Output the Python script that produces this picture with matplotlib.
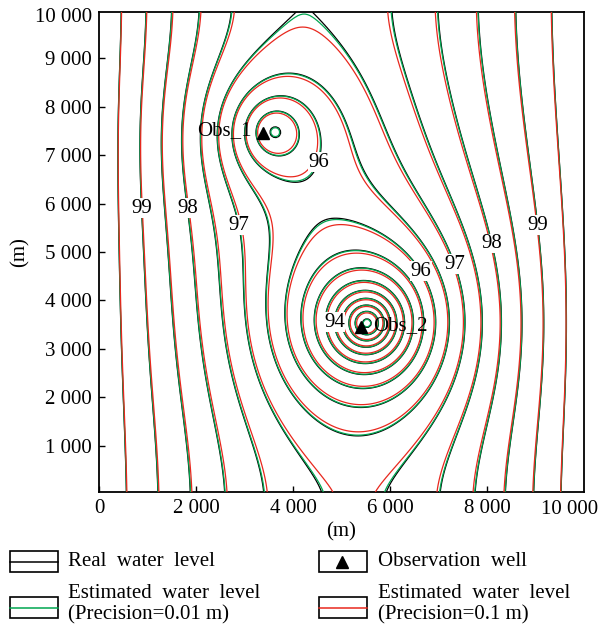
import numpy as np
import matplotlib
matplotlib.use("Agg")
import matplotlib.pyplot as plt
from matplotlib.lines import Line2D
from matplotlib.patches import Rectangle

plt.rcParams['font.family'] = ['Liberation Serif', 'DejaVu Serif']
FS = 15
plt.rcParams['font.size'] = FS

# ---------------- values ----------------
domain_length = 10000.0
boundary_head = 100.0
pump_x = [3590.0, 5530.0]
pump_y = [7490.0, 3530.0]
pump_rw = [400.0, 300.0]
cone_R = [1500.0, 3000.0]
# broad low zone under the lower cone (stretches its rings downward)
low_x = [5550.0]
low_y = [2300.0]
low_r = [1400.0]

obs_x = [3380.0, 5400.0]
obs_y = [7450.0, 3450.0]
obs_names = ["Obs_1", "Obs_2"]

# contour crossings: x (m), y (m), head (m)
edge_x = [536, 1030, 1530, 2080, 2700, 3900, 4450, 5835, 6784, 7608, 8433, 9196,
          660, 1240, 1860, 2430, 3030, 3650, 6760, 7380, 7980, 8510, 8970, 9440,
          680, 1320, 1960, 2660, 3380, 4350, 6100, 7030, 7710, 8330, 8890, 9440,
          495, 1010, 1505, 1950, 2450, 2970, 9031, 8103, 7381, 4175, 4175]
edge_y = [9900] * 12 + [1430] * 12 + [100] * 12 + [5900] * 6 + [5557, 5186, 4794, 9700, 9950]
edge_h = [99.5, 99.0, 98.5, 98.0, 97.5, 97.0, 97.0, 97.5, 98.0, 98.5, 99.0, 99.5,
          99.5, 99.0, 98.5, 98.0, 97.5, 97.0, 97.0, 97.5, 98.0, 98.5, 99.0, 99.5,
          99.5, 99.0, 98.5, 98.0, 97.5, 97.0, 97.0, 97.5, 98.0, 98.5, 99.0, 99.5,
          99.5, 99.0, 98.5, 98.0, 97.5, 97.0, 99.0, 98.0, 97.0, 96.95, 96.96]
edge_w = [2] * 5 + [4, 4] + [2] * 38 + [6, 6]
ring_x = [4480, 2700, 3590, 3590, 4040, 3140, 3590, 3590, 3590,
          3780, 4090, 4360, 4520, 4830, 5140, 5300, 5530, 5530, 6763, 5530, 7340, 5530]
ring_y = [7490, 7490, 8380, 6600, 7490, 7490, 7940, 7040, 7490,
          3530, 3530, 3530, 3530, 3530, 3530, 3530, 5140, 1124, 4670, 5620, 3300, 3530]
ring_h = [96.0, 96.0, 96.0, 96.0, 95.5, 95.5, 95.5, 95.5, 94.95,
          96.0, 95.5, 95.0, 94.5, 94.0, 93.0, 92.5, 96.0, 96.0, 96.0, 96.5, 96.0, 91.8]

contour_levels = [90.0, 90.5, 91.0, 91.5, 92.0, 92.5, 93.0, 93.5, 94.0, 94.5,
                  95.0, 95.5, 96.0, 96.5, 97.0, 97.5, 98.0, 98.5, 99.0, 99.5]
label_level = [99, 98, 97, 96, 96, 97, 98, 99, 94]
label_pos = [(1093, 5907), (2020, 5928), (3010, 5577), (4495, 6835),
             (6763, 4670), (7381, 4794), (8103, 5186), (9031, 5557),
             (4763, 3536)]

scale_green = 0.997   # estimated field, precision 0.01 m
scale_red = 0.984     # estimated field, precision 0.1 m

x_ticks = [0, 2000, 4000, 6000, 8000]
x_tick_labels = ["0", "2 000", "4 000", "6 000", "8 000"]
y_ticks = [1000, 2000, 3000, 4000, 5000, 6000, 7000, 8000, 9000]
y_tick_labels = ["1 000", "2 000", "3 000", "4 000", "5 000",
                 "6 000", "7 000", "8 000", "9 000"]

# ---------------- head model ----------------
def strip_green(X, Y, x0, y0, rw):
    L = domain_length
    k = np.pi / L
    g = np.zeros_like(X, dtype=float)
    for m in range(-2, 3):
        for yy in (y0 + 2 * m * L, -y0 + 2 * m * L):
            c = np.cosh(k * (Y - yy))
            num = c - np.cos(k * (X + x0))
            den = c - np.cos(k * (X - x0)) + 0.5 * (k * rw) ** 2
            g = g + np.log(num / den) / (4 * np.pi)
    return g


def local_cone(X, Y, x0, y0, rw, R):
    r2 = (X - x0) ** 2 + (Y - y0) ** 2
    return 0.5 * np.log((r2 + rw ** 2 + R ** 2) / (r2 + rw ** 2))


def basis(X, Y):
    cols = []
    for i in range(len(pump_x)):
        cols.append(strip_green(X, Y, pump_x[i], pump_y[i], pump_rw[i]))
    for i in range(len(pump_x)):
        cols.append(local_cone(X, Y, pump_x[i], pump_y[i], pump_rw[i], cone_R[i]))
    for i in range(len(low_x)):
        cols.append(strip_green(X, Y, low_x[i], low_y[i], low_r[i]))
    L = domain_length
    cols.append(4.0 * X * (L - X) / L ** 2)
    return cols


def fit_nonneg(A, b):
    n = A.shape[1]
    best = None
    for mask in range(1, 2 ** n):
        idx = [i for i in range(n) if (mask >> i) & 1]
        sol = np.linalg.lstsq(A[:, idx], b, rcond=None)[0]
        if np.all(sol >= 0):
            coef = np.zeros(n)
            coef[idx] = sol
            res = np.sum((A @ coef - b) ** 2)
            if best is None or res < best[0]:
                best = (res, coef)
    return best[1]


cx = np.array(edge_x + ring_x, float)
cy = np.array(edge_y + ring_y, float)
ch = np.array(edge_h + ring_h, float)
cw = np.array([float(w) for w in edge_w] + [1.0] * len(ring_x))
A = np.column_stack(basis(cx, cy)) * cw[:, None]
b = (boundary_head - ch) * cw
coef = fit_nonneg(A, b)

xs = np.linspace(0, domain_length, 201)
ys = np.linspace(50, 9950, 199)
X, Y = np.meshgrid(xs, ys)
S = sum(c * col for c, col in zip(coef, basis(X, Y)))
h_real = boundary_head - S
h_green = boundary_head - scale_green * S
h_red = boundary_head - scale_red * S

# ---------------- figure ----------------
W, H = 603, 628
fig = plt.figure(figsize=(W / 100, H / 100), dpi=100)
ax = fig.add_axes([99 / W, 1 - 492 / H, 485 / W, 480 / H])

green = '#00a650'
red = '#e8281e'
lw = 0.9
cs_b = ax.contour(X, Y, h_real, levels=contour_levels, colors='black', linewidths=lw, zorder=2)
cs_g = ax.contour(X, Y, h_green, levels=contour_levels, colors=green, linewidths=lw, zorder=3)
cs_r = ax.contour(X, Y, h_red, levels=contour_levels, colors=red, linewidths=lw, zorder=4)

for lev, (px, py) in zip(label_level, label_pos):
    segs = cs_b.allsegs[contour_levels.index(float(lev))]
    best = None
    for seg in segs:
        if len(seg) == 0:
            continue
        d = (seg[:, 0] - px) ** 2 + (seg[:, 1] - py) ** 2
        j = int(np.argmin(d))
        if best is None or d[j] < best[0]:
            best = (d[j], seg[j, 0], seg[j, 1])
    tx, ty = (best[1], best[2]) if best is not None else (px, py)
    ax.text(tx, ty, f"{lev}", ha='center', va='center', zorder=10,
            bbox=dict(boxstyle='square,pad=0.02', fc='white', ec='none'))

ax.plot(obs_x, obs_y, linestyle='none', marker='^', color='black', ms=9, zorder=11)
ax.text(3155, 7495, obs_names[0], ha='right', va='center', zorder=11)
ax.text(5650, 3474, obs_names[1], ha='left', va='center', zorder=11)

ax.set_xlim(0, 10000)
ax.set_ylim(50, 9950)
ax.set_xticks(x_ticks)
ax.set_xticklabels(x_tick_labels)
ax.set_yticks(y_ticks)
ax.set_yticklabels(y_tick_labels)
ax.tick_params(direction='in', length=4, width=1.0, pad=5, labelsize=FS)
for sp in ax.spines.values():
    sp.set_linewidth(1.3)
fig.text(570 / W, 1 - 509 / H, "10 000", ha='center', va='center', fontsize=FS)
fig.text(92 / W, 1 - 17 / H, "10 000", ha='right', va='center', fontsize=FS)
fig.text(341 / W, 1 - 532 / H, "(m)", ha='center', va='center', fontsize=FS)
fig.text(20 / W, 1 - 252 / H, "(m)", ha='center', va='center', rotation=90, fontsize=FS)

# ---------------- legend ----------------
lax = fig.add_axes([0, 0, 1, 1])
lax.set_xlim(0, W)
lax.set_ylim(H, 0)
lax.axis('off')
boxes = [(10, 551, 'line', 'black'), (319, 551, 'marker', 'black'),
         (10, 597, 'line', green), (319, 597, 'line', red)]
for bx, by, kind, col in boxes:
    lax.add_patch(Rectangle((bx, by), 48, 21, fill=False, ec='black', lw=1.2))
    if kind == 'line':
        lax.add_line(Line2D([bx, bx + 48], [by + 10.5, by + 10.5], color=col, lw=1.1))
    else:
        lax.plot([bx + 23], [by + 11], marker='^', color='black', ms=8)
legend_texts = [(68, 562, "Real  water  level"), (378, 562, "Observation  well"),
                (68, 593, "Estimated  water  level"), (68, 615, "(Precision=0.01 m)"),
                (378, 593, "Estimated  water  level"), (378, 615, "(Precision=0.1 m)")]
for tx, ty, s in legend_texts:
    lax.text(tx, ty, s, ha='left', va='center', fontsize=FS)

fig.savefig('out.png', dpi=100)
